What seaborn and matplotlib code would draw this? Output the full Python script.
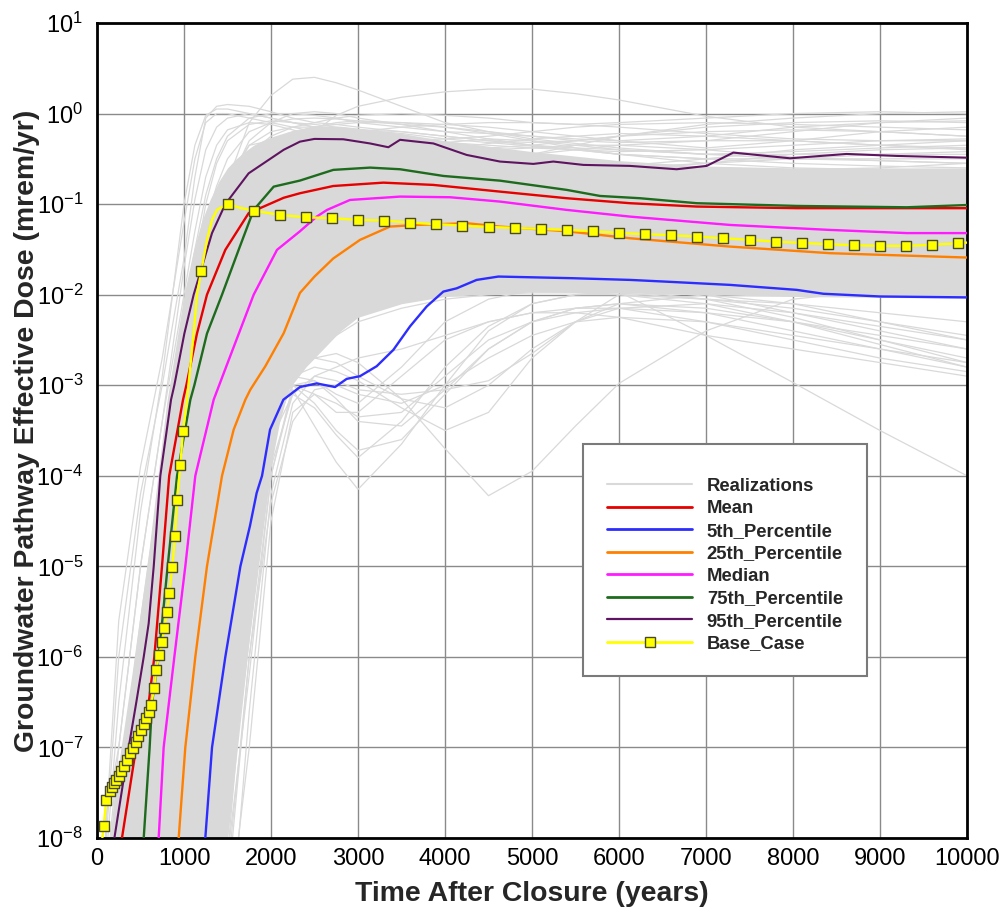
import numpy as np
import pandas as pd
import matplotlib
matplotlib.use("Agg")
import matplotlib.pyplot as plt
import seaborn as sns
from matplotlib.lines import Line2D
from matplotlib.ticker import MultipleLocator, FixedLocator, NullFormatter, LogFormatterSciNotation

sns.set_style("white")
plt.rcParams["font.family"] = ["Liberation Sans", "DejaVu Sans"]
plt.rcParams["mathtext.fontset"] = "custom"
plt.rcParams["mathtext.rm"] = "Liberation Sans"
plt.rcParams["mathtext.it"] = "Liberation Sans:italic"
plt.rcParams["mathtext.bf"] = "Liberation Sans:bold"

# ---------------------------------------------------------------------------
# Data: dose values are stored as log10(mrem/yr)
# ---------------------------------------------------------------------------

# individual Monte Carlo realizations, sampled on a common time grid (years)
real_t = [0, 250, 500, 750, 1000, 1125, 1250, 1375, 1500, 1750, 2000, 2250, 2500,
          2750, 3000, 3500, 4000, 4500, 5000, 5500, 6000, 7000, 8000, 9000, 10000]

real_log10 = [
    [-9.5, -5.6, -3.9, -2.7, -1.2, -0.5, -0.1, 0.0, 0.0, -0.05, -0.1, -0.15, -0.2, -0.25, -0.3, -0.35, -0.4, -0.45, -0.5, -0.52, -0.55, -0.6, -0.62, -0.65, -0.68],
    [-9.5, -6.5, -4.4, -2.9, -1.0, -0.35, -0.02, 0.05, 0.05, 0.0, -0.05, -0.1, -0.12, -0.15, -0.18, -0.22, -0.28, -0.32, -0.36, -0.4, -0.45, -0.5, -0.55, -0.58, -0.6],
    [-8.3, -7.0, -5.0, -3.4, -1.7, -0.95, -0.4, -0.15, -0.05, 0.0, -0.05, -0.1, -0.15, -0.2, -0.22, -0.28, -0.32, -0.35, -0.38, -0.4, -0.45, -0.5, -0.5, -0.5, -0.5],
    [-9.5, -9.5, -7.5, -5.6, -3.5, -2.7, -2.0, -1.3, -0.75, -0.1, 0.2, 0.38, 0.4, 0.34, 0.26, 0.08, -0.1, -0.2, -0.28, -0.33, -0.38, -0.45, -0.5, -0.52, -0.55],
    [-9.5, -9.5, -9.5, -7.8, -6.0, -5.1, -4.3, -3.55, -2.9, -1.8, -1.0, -0.5, -0.2, -0.02, 0.08, 0.18, 0.24, 0.27, 0.27, 0.22, 0.15, -0.03, -0.15, -0.2, -0.25],
    [-9.5, -7.5, -5.6, -3.9, -2.2, -1.5, -0.9, -0.5, -0.25, -0.05, 0.0, 0.0, -0.02, -0.05, -0.1, -0.15, -0.2, -0.22, -0.25, -0.28, -0.3, -0.25, -0.15, -0.1, -0.05],
    [-9.5, -8.0, -6.2, -4.4, -2.6, -1.85, -1.2, -0.8, -0.5, -0.2, -0.1, -0.06, -0.05, -0.06, -0.08, -0.12, -0.15, -0.2, -0.25, -0.3, -0.32, -0.3, -0.2, -0.1, -0.08],
    [-9.5, -9.5, -7.3, -5.2, -3.3, -2.5, -1.8, -1.3, -0.9, -0.45, -0.25, -0.15, -0.1, -0.05, -0.02, 0.0, -0.02, -0.05, -0.1, -0.12, -0.1, -0.05, 0.0, 0.02, 0.0],
    [-9.5, -9.5, -8.0, -6.0, -4.0, -3.15, -2.4, -1.8, -1.3, -0.6, -0.3, -0.2, -0.15, -0.12, -0.1, -0.1, -0.12, -0.15, -0.2, -0.25, -0.3, -0.38, -0.3, -0.2, -0.15],
    [-9.5, -8.6, -6.6, -4.8, -3.0, -2.25, -1.6, -1.1, -0.7, -0.35, -0.3, -0.3, -0.32, -0.35, -0.38, -0.42, -0.45, -0.48, -0.5, -0.52, -0.55, -0.6, -0.62, -0.6, -0.55],
    [-9.5, -9.5, -9.5, -9.5, -7.5, -6.6, -5.8, -5.0, -4.2, -3.0, -2.2, -1.7, -1.4, -1.2, -1.05, -0.85, -0.7, -0.55, -0.45, -0.35, -0.25, -0.12, -0.05, 0.0, 0.02],
    [-9.5, -9.5, -8.2, -6.2, -4.2, -3.35, -2.6, -2.0, -1.5, -0.9, -0.6, -0.45, -0.38, -0.35, -0.33, -0.35, -0.38, -0.42, -0.45, -0.4, -0.35, -0.3, -0.3, -0.35, -0.4],
    [-9.5, -9.5, -9.5, -7.0, -5.0, -4.1, -3.3, -2.6, -2.0, -1.2, -0.8, -0.6, -0.5, -0.45, -0.42, -0.4, -0.4, -0.38, -0.35, -0.3, -0.25, -0.2, -0.18, -0.2, -0.25],
    [-9.5, -8.8, -6.8, -5.0, -3.2, -2.4, -1.7, -1.15, -0.75, -0.35, -0.2, -0.15, -0.15, -0.18, -0.22, -0.3, -0.38, -0.45, -0.5, -0.55, -0.58, -0.5, -0.4, -0.35, -0.3],
    [-9.5, -9.5, -9.5, -8.5, -6.5, -5.45, -4.5, -3.7, -3.0, -2.0, -1.4, -1.05, -0.85, -0.7, -0.6, -0.48, -0.4, -0.33, -0.28, -0.25, -0.22, -0.25, -0.3, -0.35, -0.38],
    [-9.5, -6.0, -4.2, -3.0, -1.6, -0.7, -0.05, 0.08, 0.1, 0.08, 0.02, -0.05, -0.1, -0.12, -0.15, -0.2, -0.25, -0.3, -0.35, -0.38, -0.4, -0.45, -0.45, -0.45, -0.45],
    [-9.5, -9.5, -8.5, -6.4, -4.4, -3.55, -2.8, -2.2, -1.7, -1.1, -0.8, -0.65, -0.6, -0.58, -0.58, -0.6, -0.65, -0.7, -0.75, -0.8, -0.85, -0.9, -0.95, -0.95, -0.95],
    [-9.5, -9.5, -9.5, -7.6, -5.4, -4.5, -3.7, -3.0, -2.4, -1.6, -1.2, -1.0, -0.9, -0.85, -0.85, -0.88, -0.9, -0.95, -1.0, -1.05, -1.1, -1.15, -1.2, -1.2, -1.2],
    [-9.5, -9.5, -9.5, -8.4, -6.5, -5.5, -4.6, -3.85, -3.2, -2.2, -1.6, -1.3, -1.15, -1.05, -1.0, -1.0, -1.05, -1.1, -1.15, -1.2, -1.25, -1.3, -1.35, -1.4, -1.4],
    [-9.5, -9.5, -9.5, -9.5, -7.6, -6.55, -5.6, -4.75, -4.0, -2.8, -2.0, -1.6, -1.4, -1.3, -1.25, -1.25, -1.3, -1.35, -1.4, -1.45, -1.5, -1.55, -1.6, -1.65, -1.7],
    [-9.5, -9.5, -9.5, -9.5, -8.5, -7.5, -6.6, -5.7, -4.9, -3.5, -2.5, -2.0, -1.7, -1.55, -1.5, -1.45, -1.45, -1.5, -1.55, -1.6, -1.65, -1.7, -1.75, -1.8, -1.85],
    [-9.5, -9.5, -9.5, -8.0, -6.0, -5.0, -4.1, -3.35, -2.7, -1.8, -1.3, -1.0, -0.8, -0.7, -0.65, -0.6, -0.58, -0.6, -0.62, -0.65, -0.7, -0.75, -0.8, -0.8, -0.8],
    [-9.5, -9.5, -9.5, -9.5, -8.0, -7.05, -6.2, -5.3, -4.5, -3.2, -2.3, -1.7, -1.4, -1.2, -1.1, -1.0, -0.95, -0.95, -0.98, -1.0, -1.05, -1.1, -1.1, -1.15, -1.15],
    [-9.5, -9.5, -9.5, -9.5, -9.5, -9.5, -9.5, -9.2, -8.6, -6.0, -4.0, -3.05, -3.45, -3.85, -4.15, -3.65, -3.0, -2.4, -2.1, -2.0, -2.0, -2.05, -2.1, -2.2, -2.3],
    [-9.5, -9.5, -9.5, -9.5, -9.5, -9.3, -9.0, -8.0, -7.0, -5.0, -3.5, -2.9, -2.7, -2.65, -2.75, -3.15, -3.7, -4.22, -3.95, -3.45, -2.98, -2.4, -2.05, -1.95, -1.95],
    [-9.5, -9.5, -9.5, -9.5, -9.5, -9.3, -9.0, -8.1, -7.2, -5.2, -3.5, -3.0, -3.2, -3.5, -3.72, -3.6, -3.1, -2.6, -2.3, -2.15, -2.1, -2.2, -2.4, -2.6, -2.8],
    [-9.5, -9.5, -9.5, -9.5, -9.5, -9.0, -8.5, -7.5, -6.5, -4.6, -3.2, -2.9, -2.8, -2.85, -2.95, -3.25, -3.5, -3.3, -2.7, -2.3, -2.1, -2.0, -2.1, -2.3, -2.5],
    [-9.5, -9.5, -9.5, -9.5, -9.5, -8.8, -8.0, -7.0, -6.0, -4.2, -2.8, -2.3, -2.0, -1.85, -1.8, -1.7, -1.65, -1.65, -1.7, -1.8, -1.97, -2.45, -2.97, -3.5, -4.0],
    [-9.5, -9.5, -9.5, -9.5, -9.5, -9.5, -9.5, -8.7, -7.8, -5.4, -3.5, -3.0, -3.1, -3.3, -3.3, -2.9, -2.5, -2.3, -2.2, -2.2, -2.25, -2.45, -2.6, -2.75, -2.9],
    [-9.5, -9.5, -9.5, -9.5, -9.5, -9.2, -8.8, -7.8, -6.8, -4.8, -3.2, -2.6, -2.3, -2.15, -2.1, -1.9, -1.8, -1.75, -1.75, -1.8, -1.85, -2.0, -2.2, -2.4, -2.6],
    [-9.5, -9.5, -9.5, -9.5, -9.5, -9.4, -9.2, -8.3, -7.4, -5.4, -3.7, -2.9, -2.6, -2.45, -2.3, -2.15, -2.05, -2.0, -1.98, -1.98, -2.0, -2.1, -2.3, -2.55, -2.8],
    [-9.5, -9.5, -9.5, -9.5, -9.5, -9.5, -9.5, -9.3, -9.0, -7.0, -4.5, -3.3, -3.1, -3.2, -3.35, -3.3, -2.9, -2.5, -2.3, -2.2, -2.15, -2.2, -2.3, -2.45, -2.6],
    [-9.5, -9.5, -9.5, -9.5, -9.5, -9.5, -9.5, -8.9, -8.2, -6.2, -4.0, -3.0, -2.95, -3.1, -3.2, -2.8, -2.3, -2.05, -1.95, -1.92, -1.95, -2.05, -2.25, -2.5, -2.75],
    [-9.5, -9.5, -9.5, -9.5, -9.5, -9.5, -9.5, -8.5, -7.5, -5.0, -3.4, -2.9, -2.95, -3.15, -3.4, -3.45, -3.05, -2.6, -2.3, -2.15, -2.1, -2.15, -2.3, -2.5, -2.7],
    [-9.5, -9.5, -9.5, -9.5, -9.5, -9.5, -9.5, -8.9, -8.2, -5.4, -3.6, -3.1, -3.25, -3.55, -3.8, -3.4, -2.8, -2.35, -2.1, -2.0, -1.98, -2.05, -2.15, -2.3, -2.45],
    [-9.5, -9.5, -9.5, -9.5, -9.5, -9.5, -9.5, -8.8, -8.0, -5.8, -3.9, -3.1, -2.9, -2.95, -3.05, -3.1, -3.05, -2.95, -2.65, -2.3, -2.0, -1.75, -1.7, -1.75, -1.8],
    [-9.5, -9.5, -9.5, -9.5, -9.5, -9.5, -9.5, -9.5, -9.5, -6.6, -4.2, -3.2, -2.9, -2.8, -2.7, -2.6, -2.45, -2.3, -2.2, -2.15, -2.15, -2.3, -2.5, -2.7, -2.85],
    [-9.5, -9.5, -7.8, -5.9, -4.0, -3.0, -2.1, -1.3, -0.8, -0.3, -0.1, 0.0, 0.02, 0.0, -0.05, -0.12, -0.2, -0.28, -0.35, -0.4, -0.42, -0.4, -0.35, -0.3, -0.28],
    [-9.5, -9.5, -8.6, -6.7, -4.7, -3.7, -2.8, -2.0, -1.4, -0.65, -0.35, -0.22, -0.15, -0.1, -0.08, -0.1, -0.15, -0.22, -0.3, -0.38, -0.45, -0.55, -0.6, -0.62, -0.65],
    [-9.5, -8.2, -6.0, -4.2, -2.5, -1.7, -1.0, -0.55, -0.3, -0.12, -0.08, -0.1, -0.15, -0.2, -0.25, -0.35, -0.45, -0.52, -0.58, -0.6, -0.6, -0.55, -0.5, -0.45, -0.42],
    [-9.5, -9.5, -9.5, -7.4, -5.6, -4.6, -3.7, -2.9, -2.2, -1.2, -0.7, -0.45, -0.32, -0.25, -0.2, -0.15, -0.12, -0.1, -0.1, -0.12, -0.15, -0.22, -0.28, -0.3, -0.3],
    [-9.5, -7.0, -5.0, -3.4, -2.0, -1.3, -0.7, -0.35, -0.18, -0.1, -0.12, -0.18, -0.25, -0.3, -0.35, -0.42, -0.5, -0.55, -0.6, -0.62, -0.62, -0.55, -0.45, -0.4, -0.38],
    [-9.5, -9.5, -9.0, -7.0, -5.2, -4.2, -3.2, -2.4, -1.8, -0.95, -0.55, -0.35, -0.25, -0.2, -0.18, -0.2, -0.25, -0.3, -0.32, -0.3, -0.25, -0.15, -0.1, -0.08, -0.1],
    [-9.5, -9.0, -7.0, -5.3, -3.6, -2.8, -2.0, -1.4, -0.95, -0.5, -0.35, -0.3, -0.3, -0.32, -0.35, -0.4, -0.42, -0.4, -0.38, -0.35, -0.35, -0.4, -0.48, -0.52, -0.55],
    [-9.5, -9.5, -9.5, -9.5, -9.5, -9.5, -9.5, -9.0, -8.4, -6.0, -4.3, -3.4, -3.05, -3.0, -3.1, -3.2, -3.0, -2.7, -2.45, -2.3, -2.25, -2.3, -2.45, -2.6, -2.75],
    [-9.5, -9.5, -9.5, -9.5, -9.5, -9.5, -9.2, -8.2, -7.2, -5.0, -3.3, -2.8, -2.7, -2.75, -2.9, -3.15, -3.25, -3.0, -2.6, -2.3, -2.15, -2.1, -2.2, -2.35, -2.5],
    [-9.5, -9.5, -8.8, -6.9, -5.0, -4.0, -3.1, -2.3, -1.7, -0.9, -0.55, -0.4, -0.35, -0.33, -0.32, -0.3, -0.28, -0.25, -0.2, -0.15, -0.12, -0.1, -0.12, -0.15, -0.18],
    [-9.5, -9.5, -9.5, -8.0, -6.2, -5.2, -4.3, -3.5, -2.8, -1.7, -1.05, -0.75, -0.6, -0.5, -0.45, -0.38, -0.32, -0.28, -0.3, -0.35, -0.4, -0.45, -0.42, -0.38, -0.35],
]

# dense core of the realization cloud (upper and lower edge)
core_t = [0, 200, 400, 600, 800, 900, 1000, 1100, 1200, 1300, 1400, 1500, 1600, 1700, 1800, 1900,
          2000, 2100, 2200, 2400, 2600, 2800, 3000, 3500, 4000, 5000, 6000, 7000, 8000, 9000, 10000]
core_hi_log10 = [-9.5, -7.5, -6.2, -4.8, -3.2, -2.6, -2.0, -1.55, -1.2, -0.95, -0.75, -0.6, -0.5,
                 -0.42, -0.35, -0.3, -0.26, -0.23, -0.2, -0.16, -0.14, -0.14, -0.16, -0.22, -0.3,
                 -0.42, -0.52, -0.58, -0.6, -0.6, -0.6]
core_lo_log10 = [-9.5, -9.5, -9.5, -9.5, -9.5, -9.5, -9.5, -9.5, -9.5, -9.5, -8.6, -8.0, -7.0,
                 -6.2, -5.4, -4.6, -3.9, -3.4, -3.05, -2.8, -2.6, -2.4, -2.25, -2.1, -2.02,
                 -1.97, -1.98, -2.0, -2.02, -2.03, -2.04]

# summary statistics: (time in years, log10 dose)
mean_t = [270, 287, 450, 594, 659, 747, 830, 989, 1027, 1149, 1264, 1475, 1743, 2146, 2333, 2716,
          3291, 3866, 4632, 5399, 6126, 6893, 8042, 10000]
mean_log10 = [-8.2, -8.0, -7.0, -6.51, -6.0, -5.0, -4.0, -3.16, -3.0, -2.43, -2.0, -1.505, -1.10, -0.93,
              -0.88, -0.80, -0.763, -0.788, -0.862, -0.935, -0.99, -1.027, -1.045, -1.045]

p05_t = [1240, 1245, 1322, 1475, 1648, 1759, 1835, 1897, 1989, 2142, 2333, 2525, 2736, 2870, 3023,
         3215, 3406, 3598, 3790, 3981, 4134, 4364, 4613, 5458, 6126, 6515, 7276, 8042, 8349, 9000, 10000]
p05_log10 = [-8.2, -8.0, -7.0, -6.0, -5.0, -4.55, -4.19, -4.0, -3.49, -3.16, -3.02, -2.98, -3.02, -2.93,
             -2.90, -2.79, -2.61, -2.35, -2.13, -1.966, -1.93, -1.837, -1.80, -1.818, -1.837, -1.855,
             -1.892, -1.947, -1.99, -2.02, -2.03]

p25_t = [930, 939, 1015, 1130, 1264, 1437, 1571, 1705, 1762, 1935, 2146, 2333, 2500, 2716, 3023,
         3368, 3675, 4249, 4632, 5399, 6126, 7276, 8425, 10000]
p25_log10 = [-8.2, -8.0, -7.0, -6.0, -5.0, -4.0, -3.49, -3.16, -3.05, -2.79, -2.425, -1.98, -1.80, -1.60,
             -1.395, -1.248, -1.23, -1.211, -1.248, -1.30, -1.377, -1.469, -1.542, -1.59]

median_t = [700, 709, 766, 889, 1015, 1130, 1341, 1487, 1801, 2069, 2333, 2525, 2644, 2908, 3483,
            4057, 4632, 5399, 6126, 7276, 8425, 9307, 10000]
median_log10 = [-8.2, -8.0, -7.0, -6.0, -5.0, -4.0, -3.16, -2.79, -2.0, -1.505, -1.30, -1.138, -1.064,
                -0.954, -0.917, -0.924, -0.972, -1.064, -1.138, -1.23, -1.285, -1.32, -1.32]

p75_t = [520, 537, 605, 632, 709, 812, 920, 1073, 1119, 1264, 1437, 1628, 1801, 2031, 2333, 2716,
         3138, 3483, 3981, 4632, 5399, 5782, 6241, 6893, 8042, 9307, 10000]
p75_log10 = [-8.3, -8.0, -7.0, -6.51, -6.0, -5.0, -4.0, -3.16, -3.0, -2.43, -2.0, -1.505, -1.064, -0.807,
             -0.74, -0.622, -0.597, -0.615, -0.689, -0.741, -0.843, -0.91, -0.935, -0.99, -1.02, -1.035, -1.01]

p95_t = [170, 200, 364, 452, 537, 594, 652, 728, 851, 889, 1004, 1111, 1322, 1475, 1743, 2146, 2333,
         2500, 2831, 3138, 3349, 3483, 3866, 4249, 4632, 5015, 5245, 5590, 6126, 6663, 7008, 7314,
         7966, 8617, 9192, 10000]
p95_log10 = [-8.3, -8.0, -7.0, -6.5, -6.0, -5.63, -5.0, -4.0, -3.16, -3.0, -2.43, -2.0, -1.32, -1.0, -0.66,
             -0.40, -0.31, -0.28, -0.284, -0.33, -0.372, -0.29, -0.33, -0.457, -0.53, -0.556, -0.53,
             -0.567, -0.578, -0.615, -0.578, -0.431, -0.494, -0.446, -0.468, -0.487]

# deterministic base case: output times with a symbol ...
base_mark_t = [77, 107, 146, 172, 199, 222, 249, 276, 307, 345, 383, 414, 445, 475, 506, 537, 567,
               594, 621, 659, 682, 713, 747, 774, 805, 831, 866, 897, 920, 958, 989, 1200, 1500,
               1800, 2100, 2400, 2700, 3000, 3300, 3600, 3900, 4200, 4500, 4800, 5100, 5400, 5700,
               6000, 6300, 6600, 6900, 7200, 7500, 7800, 8100, 8400, 8700, 9000, 9300, 9600, 9900]
base_mark_log10 = [-7.863, -7.576, -7.484, -7.436, -7.392, -7.355, -7.319, -7.264, -7.208, -7.135,
                   -7.061, -7.006, -6.944, -6.877, -6.804, -6.737, -6.675, -6.612, -6.528, -6.344,
                   -6.141, -5.983, -5.836, -5.678, -5.504, -5.295, -5.004, -4.662, -4.273, -3.879,
                   -3.507, -1.734, -0.996, -1.072, -1.119, -1.145, -1.156, -1.174, -1.182, -1.204,
                   -1.222, -1.237, -1.252, -1.263, -1.274, -1.285, -1.299, -1.318, -1.332, -1.343,
                   -1.359, -1.377, -1.395, -1.414, -1.428, -1.443, -1.454, -1.461, -1.461, -1.45, -1.432]
# ... and the intermediate output times of the same run
base_line_t = [50, 1034, 1111, 1149, 1264, 1322, 1379, 1640, 10000]
base_line_log10 = [-8.1, -3.16, -2.43, -2.0, -1.395, -1.174, -1.064, -1.04, -1.425]

# y-axis decades
decades = [1e-8, 1e-7, 1e-6, 1e-5, 1e-4, 1e-3, 1e-2, 1e-1, 1e0, 1e1]

# ---------------------------------------------------------------------------
# Figure
# ---------------------------------------------------------------------------
GRAY = "#d9d9d9"
series = [
    ("Mean", mean_t, mean_log10, "#e60000", 1.7),
    ("5th_Percentile", p05_t, p05_log10, "#2d2dff", 1.7),
    ("25th_Percentile", p25_t, p25_log10, "#ff8000", 1.7),
    ("Median", median_t, median_log10, "#ff1aff", 1.7),
    ("75th_Percentile", p75_t, p75_log10, "#1e6b1e", 1.7),
    ("95th_Percentile", p95_t, p95_log10, "#5e1460", 1.5),
]

fig = plt.figure(figsize=(10.0, 9.11), dpi=100)
ax = fig.add_axes([0.097, 73 / 911, 0.870, 815 / 911])
ax.set_yscale("log")

# realization cloud
ax.fill_between(core_t, 10.0 ** np.array(core_lo_log10), 10.0 ** np.array(core_hi_log10),
                color=GRAY, lw=0, zorder=1)
real_df = pd.DataFrame(
    [(i, t, 10.0 ** v) for i, run in enumerate(real_log10) for t, v in zip(real_t, run)],
    columns=["run", "time", "dose"],
)
sns.lineplot(data=real_df, x="time", y="dose", units="run", estimator=None,
             color=GRAY, lw=0.9, ax=ax, legend=False, zorder=1.5)

# statistics
for name, t, v, c, lw in series:
    sns.lineplot(x=t, y=10.0 ** np.array(v), color=c, lw=lw, ax=ax,
                 estimator=None, legend=False, zorder=3)

# base case
bl = pd.DataFrame({"time": base_mark_t + base_line_t,
                   "dose": 10.0 ** np.array(base_mark_log10 + base_line_log10)}).sort_values("time")
sns.lineplot(data=bl, x="time", y="dose", color="#ffff00", lw=1.7, ax=ax,
             estimator=None, legend=False, zorder=4)
sns.scatterplot(x=base_mark_t, y=10.0 ** np.array(base_mark_log10), marker="s", s=42,
                color="#ffff00", edgecolor="#4a4a2a", linewidth=1.0, ax=ax, zorder=5, legend=False)

# axes, ticks, grid
ax.set_xlim(0, 10000)
ax.set_ylim(decades[0], decades[-1])
ax.xaxis.set_major_locator(MultipleLocator(1000))
ax.xaxis.set_minor_locator(MultipleLocator(200))
ax.yaxis.set_major_locator(FixedLocator(decades))
ax.yaxis.set_minor_locator(FixedLocator([d * k for d in decades[:-1] for k in range(2, 10)]))
ax.yaxis.set_major_formatter(LogFormatterSciNotation())
ax.yaxis.set_minor_formatter(NullFormatter())
ax.set_axisbelow(True)
ax.grid(True, which="major", color="#8a8a8a", lw=1.0)
ax.grid(False, which="minor")
ax.tick_params(which="both", direction="in", top=False, right=False, colors="black")
ax.tick_params(which="major", length=13, width=1.6, labelsize=17)
ax.tick_params(which="minor", length=8, width=1.2)
ax.tick_params(axis="y", which="major", pad=10)
ax.tick_params(axis="x", which="major", pad=7)
for s in ax.spines.values():
    s.set_visible(True)
    s.set_color("black")
    s.set_linewidth(2.0)

ax.set_xlabel("Time After Closure (years)", fontsize=20.4, fontweight="bold", labelpad=8)
ax.set_ylabel("Groundwater Pathway Effective Dose (mrem/yr)", fontsize=20.4, fontweight="bold")
ax.yaxis.set_label_coords(-0.066, 0.5)

# legend
handles = [Line2D([], [], color=GRAY, lw=1.5)]
handles += [Line2D([], [], color=c, lw=2.0 if lw > 1.6 else 1.6) for _, _, _, c, lw in series]
handles += [Line2D([], [], color="#ffff00", lw=2.0, marker="s", ms=7,
                   mfc="#ffff00", mec="#4a4a2a", mew=1.0)]
labels = ["Realizations"] + [s[0] for s in series] + ["Base_Case"]
leg = ax.legend(handles, labels, loc="upper left", bbox_to_anchor=(0.583, 1 - 444 / 911),
                bbox_transform=fig.transFigure, borderaxespad=0, frameon=True, fancybox=False,
                framealpha=1, edgecolor="#7a7a7a", prop={"weight": "bold", "size": 13.3},
                handlelength=4.6, handletextpad=0.8, labelspacing=0.3, borderpad=1.3,
                title=" ", title_fontsize=3)
leg.get_frame().set_linewidth(1.5)
leg.set_zorder(10)

fig.savefig("out.png", dpi=100)
